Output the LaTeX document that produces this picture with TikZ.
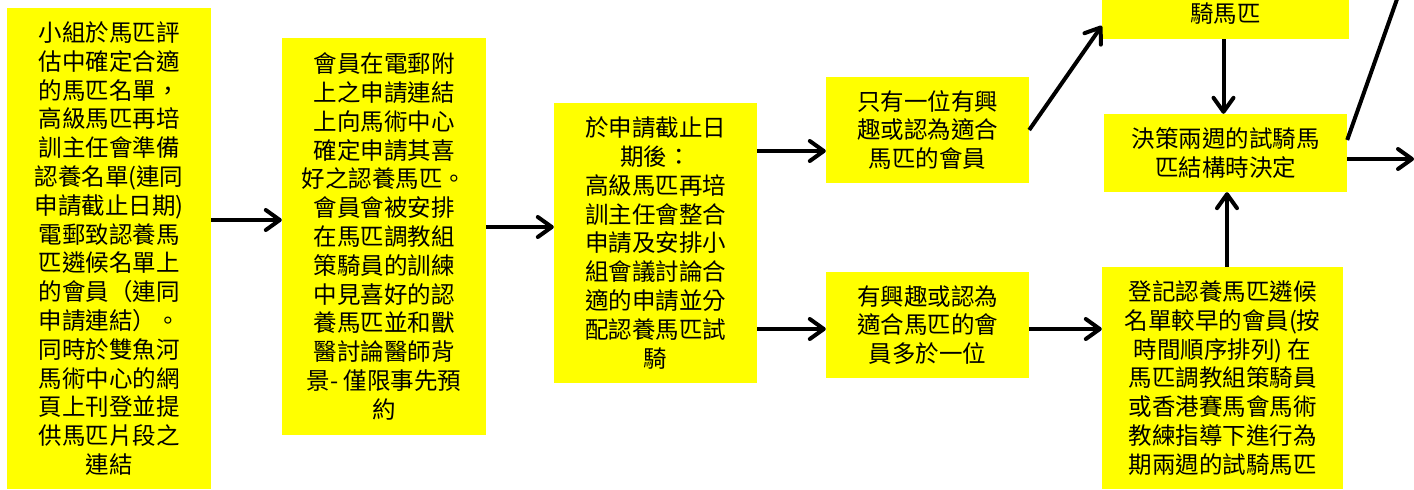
\documentclass[tikz,border=0pt]{standalone}
\usepackage{fontspec}
\newfontfamily\cjk{Noto Sans CJK TC}
\usetikzlibrary{arrows.meta,calc}
\definecolor{boxyellow}{HTML}{FFFF00}
\tikzset{
  box/.style={fill=boxyellow, draw=none, inner sep=0pt, align=center,
    font=\cjk\fontsize{23.5pt}{28.8pt}\selectfont},
  boxtext/.style={inner sep=0pt, align=center,
    font=\cjk\fontsize{23.5pt}{28.8pt}\selectfont},
  arr/.style={line width=4pt, -{Straight Barb[length=14pt,width=20pt,line width=4pt,round]}},
  plain/.style={line width=4pt}
}
\begin{document}
\begin{tikzpicture}[x=1pt,y=-1pt]
\useasboundingbox (0,0) rectangle (1414,490);
\clip (0,0) rectangle (1414,490);

\node[box, minimum width=204pt, minimum height=481pt] (n1) at (109,248.5)
 {小組於馬匹評\\估中確定合適\\的馬匹名單，\\高級馬匹再培\\訓主任會準備\\認養名單(連同\\申請截止日期)\\電郵致認養馬\\匹遴候名單上\\的會員（連同\\申請連結）。\\同時於雙魚河\\馬術中心的網\\頁上刊登並提\\供馬匹片段之\\連結};

\node[box, minimum width=204pt, minimum height=397pt] (n2) at (384,236.5)
 {會員在電郵附\\上之申請連結\\上向馬術中心\\確定申請其喜\\好之認養馬匹。\\會員會被安排\\在馬匹調教組\\策騎員的訓練\\中見喜好的認\\養馬匹並和獸\\醫討論醫師背\\景- 僅限事先預\\約};

\node[box, minimum width=203pt, minimum height=280pt] (n3) at (655.5,243)
 {於申請截止日\\期後：\\高級馬匹再培\\訓主任會整合\\申請及安排小\\組會議討論合\\適的申請並分\\配認養馬匹試\\騎};

\node[box, minimum width=203pt, minimum height=106pt] (n4) at (927.5,130)
 {只有一位有興\\趣或認為適合\\馬匹的會員};

\node[box, minimum width=203pt, minimum height=106pt] (n5) at (927.5,325)
 {有興趣或認為\\適合馬匹的會\\員多於一位};

\node[box, minimum width=247pt, minimum height=100pt, anchor=south] (top) at (1225.5,39) {};
\node[boxtext] (toptext) at (1225.5,14) {騎馬匹};

\node[box, minimum width=243pt, minimum height=78pt] (n7) at (1225.5,153)
 {決策兩週的試騎馬\\匹結構時決定};

\node[box, minimum width=241pt, minimum height=222pt] (n8) at (1222.5,378)
 {登記認養馬匹遴候\\名單較早的會員(按\\時間順序排列) 在\\馬匹調教組策騎員\\或香港賽馬會馬術\\教練指導下進行為\\期兩週的試騎馬匹};

\coordinate (edgeR) at (1414,159);
\coordinate (edgeT) at (1402,-15);

\draw[arr] ([yshift=28.5pt]n1.east) coordinate (a1) -- (a1 -| n2.west);
\draw[arr] ([yshift=9.5pt]n2.east) coordinate (a2) -- (a2 -| n3.west);
\draw[arr] ([yshift=92pt]n3.east) coordinate (a3) -- (a3 -| n4.west);
\draw[arr] ([yshift=-86pt]n3.east) coordinate (a4) -- (a4 -| n5.west);
\draw[arr] (n4.east) -- ([yshift=-37pt]top.west);
\draw[arr] ([xshift=-2pt]top.south) -- ([xshift=-2pt]top.south |- n7.north);
\draw[arr] ([xshift=4.5pt]n8.north) coordinate (a7) -- (a7 |- n7.south);
\draw[arr] ([yshift=-4pt]n5.east) coordinate (a8) -- (a8 -| n8.west);
\draw[plain] ([yshift=13pt]n7.east) -- (edgeT);
\draw[arr] ([yshift=-6pt]n7.east) -- (edgeR);
\end{tikzpicture}
\end{document}
